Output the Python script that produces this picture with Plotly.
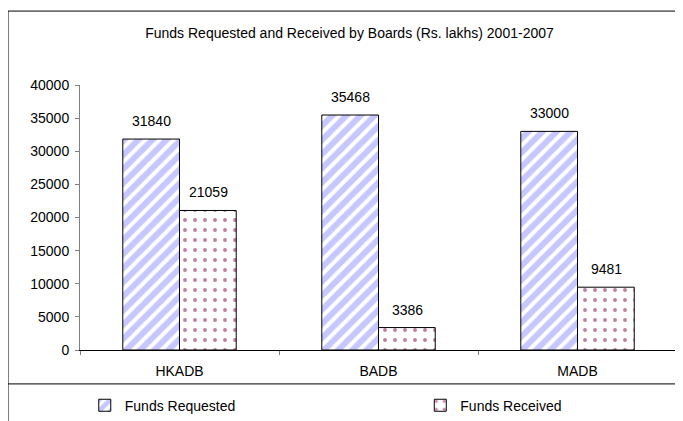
import plotly.graph_objects as go

boards = ["HKADB", "BADB", "MADB"]
funds_requested = [31840, 35468, 33000]
funds_received = [21059, 3386, 9481]
y_ticks = [0, 5000, 10000, 15000, 20000, 25000, 30000, 35000, 40000]

font = "Liberation Sans, Arial, sans-serif"
fsize = 14

fig = go.Figure()
fig.add_trace(go.Bar(
    x=boards, y=funds_requested, name="Funds Requested", legend="legend",
    marker=dict(color="white", line=dict(color="black", width=1),
                pattern=dict(shape="/", fgcolor="#8F8FFF", bgcolor="white",
                             size=10, solidity=0.6)),
))
fig.add_trace(go.Bar(
    x=boards, y=funds_received, name="Funds Received", legend="legend2",
    marker=dict(color="white", line=dict(color="black", width=1),
                pattern=dict(shape=".", fgcolor="#800040", bgcolor="white",
                             size=10, solidity=0.12)),
))

# value labels above each bar
for vals, shift in [(funds_requested, -28.5), (funds_received, 28.5)]:
    for b, v in zip(boards, vals):
        fig.add_annotation(x=b, y=v, text=str(v), showarrow=False,
                           xshift=shift, yshift=18, yanchor="middle",
                           font=dict(size=fsize, color="black", family=font))

# outer frame and legend separator
fig.add_shape(type="rect", xref="paper", yref="paper",
              x0=-0.1206, x1=1.2, y0=-0.6, y1=1.279,
              line=dict(color="black", width=1))
fig.add_shape(type="line", xref="paper", yref="paper",
              x0=-0.1206, x1=1.2, y0=-0.128, y1=-0.128,
              line=dict(color="black", width=1))

legend_style = dict(orientation="h", xanchor="left", y=-0.21,
                    yanchor="middle", font=dict(size=fsize),
                    bgcolor="rgba(0,0,0,0)")

fig.update_layout(
    width=683, height=421,
    margin=dict(l=72, r=14, t=77, b=79, autoexpand=False),
    paper_bgcolor="white", plot_bgcolor="white",
    font=dict(family=font, size=fsize, color="black"),
    title=dict(text="Funds Requested and Received by Boards (Rs. lakhs) 2001-2007",
               x=0.5, xanchor="center", y=1 - 25 / 421, yanchor="middle",
               font=dict(size=fsize)),
    barmode="group", bargap=0.43, bargroupgap=0,
    showlegend=True,
    legend=dict(x=0.008, **legend_style),
    legend2=dict(x=0.57, **legend_style),
)
fig.update_xaxes(showline=True, linecolor="black", linewidth=1,
                 ticks="outside", tickson="boundaries", ticklen=4,
                 tickcolor="#808080", showgrid=False, ticklabelstandoff=8)
fig.update_yaxes(range=[0, 40000], tickvals=y_ticks, tickformat="d",
                 showline=True, linecolor="#808080", linewidth=1,
                 ticks="outside", ticklen=4, tickcolor="#808080",
                 showgrid=False, zeroline=False, ticklabelstandoff=3)

fig.write_html("out.html")
